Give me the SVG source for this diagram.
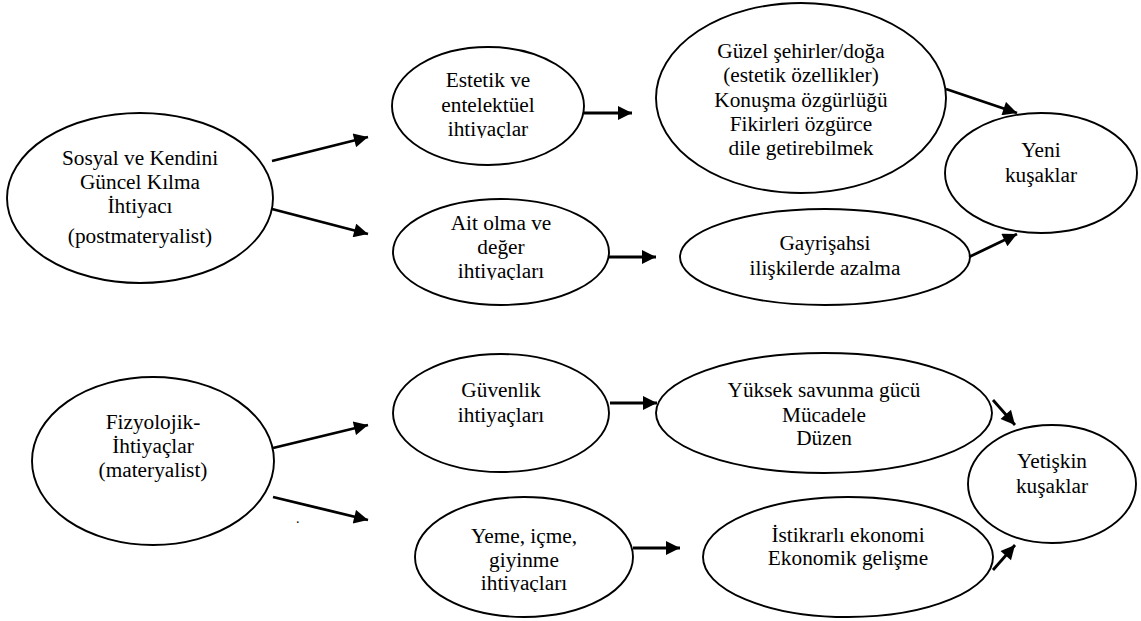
<svg xmlns="http://www.w3.org/2000/svg" width="1141" height="621" viewBox="0 0 1141 621">
  <style>
    .node ellipse { fill: #ffffff; stroke: #000000; stroke-width: 1.9; }
    .node text { font-family: "Liberation Serif", "Times New Roman", serif; font-size: 21.3px; fill: #000000; text-anchor: middle; }
    .edge { stroke: #000000; stroke-width: 2.8; fill: none; marker-end: url(#head); }
    .stray { font-family: "Liberation Serif", "Times New Roman", serif; font-size: 14px; fill: #000000; }
  </style>
  <defs>
    <marker id="head" viewBox="0 0 10 10" refX="10" refY="5" markerUnits="userSpaceOnUse" markerWidth="16" markerHeight="14" orient="auto">
      <path d="M0,0 L10,5 L0,10 Z" fill="#000000"/>
    </marker>
    <!-- text boxes that crop the descenders of their last line -->
    <clipPath id="clipEstetik"><rect x="380" y="40" width="220" height="98"/></clipPath>
    <clipPath id="clipAit"><rect x="380" y="200" width="220" height="80"/></clipPath>
    <clipPath id="clipYeme"><rect x="400" y="490" width="240" height="102"/></clipPath>
  </defs>

  <!-- left column -->
  <g id="sosyal" class="node">
    <ellipse cx="140" cy="198" rx="133" ry="85"/>
    <text x="140" y="165">Sosyal ve Kendini</text>
    <text x="140" y="189">Güncel Kılma</text>
    <text x="140" y="213">İhtiyacı</text>
    <text x="140" y="243">(postmateryalist)</text>
  </g>
  <g id="fizyolojik" class="node">
    <ellipse cx="153" cy="461" rx="121" ry="84"/>
    <text x="153" y="429">Fizyolojik-</text>
    <text x="153" y="453">İhtiyaçlar</text>
    <text x="153" y="477">(materyalist)</text>
  </g>

  <!-- needs -->
  <g id="estetik" class="node">
    <ellipse cx="488" cy="106" rx="96" ry="59"/>
    <g clip-path="url(#clipEstetik)">
      <text x="488" y="87">Estetik ve</text>
      <text x="488" y="112">entelektüel</text>
      <text x="488" y="136">ihtiyaçlar</text>
    </g>
  </g>
  <g id="ait" class="node">
    <ellipse cx="501" cy="252" rx="108" ry="53"/>
    <g clip-path="url(#clipAit)">
      <text x="501" y="230">Ait olma ve</text>
      <text x="501" y="254">değer</text>
      <text x="501" y="278">ihtiyaçları</text>
    </g>
  </g>
  <g id="guvenlik" class="node">
    <ellipse cx="501" cy="413" rx="108" ry="59"/>
    <text x="501" y="397">Güvenlik</text>
    <text x="501" y="422">ihtiyaçları</text>
  </g>
  <g id="yeme" class="node">
    <ellipse cx="524" cy="557" rx="109" ry="60"/>
    <g clip-path="url(#clipYeme)">
      <text x="524" y="543">Yeme, içme,</text>
      <text x="524" y="567">giyinme</text>
      <text x="524" y="590">ihtiyaçları</text>
    </g>
  </g>

  <!-- outcomes -->
  <g id="guzel" class="node">
    <ellipse cx="801" cy="98" rx="145" ry="95"/>
    <text x="801" y="58">Güzel şehirler/doğa</text>
    <text x="801" y="82">(estetik özellikler)</text>
    <text x="801" y="107">Konuşma özgürlüğü</text>
    <text x="801" y="131">Fikirleri özgürce</text>
    <text x="801" y="155">dile getirebilmek</text>
  </g>
  <g id="gayrisahsi" class="node">
    <ellipse cx="825" cy="257" rx="145" ry="48"/>
    <text x="825" y="250">Gayrişahsi</text>
    <text x="825" y="275">ilişkilerde azalma</text>
  </g>
  <g id="yuksek" class="node">
    <ellipse cx="824" cy="413" rx="168" ry="60"/>
    <text x="824" y="397">Yüksek savunma gücü</text>
    <text x="824" y="422">Mücadele</text>
    <text x="824" y="445">Düzen</text>
  </g>
  <g id="istikrar" class="node">
    <ellipse cx="848" cy="557" rx="145" ry="60"/>
    <text x="848" y="542">İstikrarlı ekonomi</text>
    <text x="848" y="565">Ekonomik gelişme</text>
  </g>

  <!-- generations -->
  <g id="yeni" class="node">
    <ellipse cx="1041" cy="173" rx="96" ry="60"/>
    <text x="1041" y="157">Yeni</text>
    <text x="1041" y="182">kuşaklar</text>
  </g>
  <g id="yetiskin" class="node">
    <ellipse cx="1052" cy="484" rx="84" ry="59"/>
    <text x="1052" y="468">Yetişkin</text>
    <text x="1052" y="493">kuşaklar</text>
  </g>

  <!-- stray full stop below the lower arrow -->
  <text class="stray" x="296" y="523">.</text>

  <g id="connectors">
    <line class="edge" x1="272" y1="161" x2="368" y2="137"/>
    <line class="edge" x1="272" y1="209" x2="368" y2="234"/>
    <line class="edge" x1="584" y1="113" x2="632" y2="113"/>
    <line class="edge" x1="609" y1="257" x2="656" y2="257"/>
    <line class="edge" x1="946" y1="89" x2="1017" y2="113"/>
    <line class="edge" x1="969" y1="257" x2="1017" y2="234"/>
    <line class="edge" x1="273" y1="448" x2="368" y2="425"/>
    <line class="edge" x1="273" y1="497" x2="368" y2="520"/>
    <line class="edge" x1="610" y1="403" x2="657" y2="403"/>
    <line class="edge" x1="633" y1="548" x2="680" y2="548"/>
    <line class="edge" x1="993" y1="400" x2="1015" y2="425"/>
    <line class="edge" x1="993" y1="570" x2="1015" y2="545"/>
  </g>
</svg>
